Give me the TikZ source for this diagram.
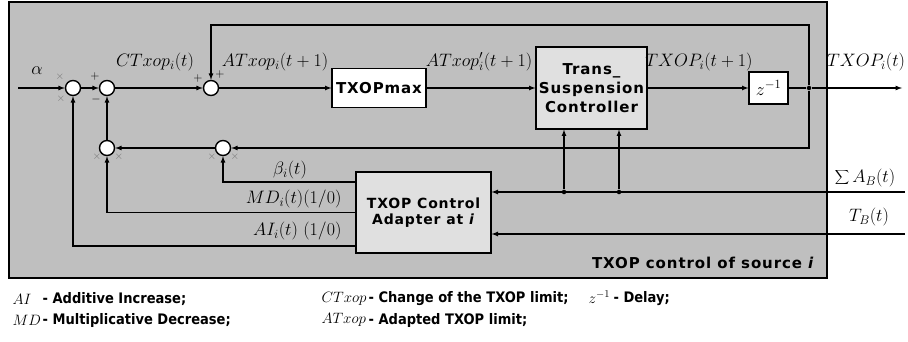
\RequirePackage{fix-cm}
\documentclass[tikz,border=0pt]{standalone}
\usepackage[no-math]{fontspec}
\newfontfamily\blocksf[LetterSpace=6]{DejaVu Sans}
\newfontfamily\legendsf[FakeStretch=0.9]{DejaVu Sans}
\usetikzlibrary{positioning}

\begin{document}
\begin{tikzpicture}[x=1pt, y=-1pt, line width=1.2pt,
	sumnode/.style={circle, draw, fill=white, minimum size=15pt, inner sep=0pt, line width=1.4pt},
	block/.style={rectangle, draw, line width=1.2pt, text centered, inner sep=2pt,
		font=\blocksf\bfseries\fontsize{15}{17}\selectfont},
	dot/.style={circle, fill, inner sep=1.6pt},
	lbl/.style={inner sep=0pt, font=\fontsize{18}{20}\selectfont},
	sign/.style={inner sep=0pt, font=\fontsize{12}{12}\selectfont},
	cross/.style={inner sep=0pt, text=black!55, font=\fontsize{11}{11}\selectfont},
	legm/.style={anchor=west, inner sep=0pt, font=\fontsize{15}{17}\selectfont},
	legt/.style={anchor=west, inner sep=0pt, font=\legendsf\bfseries\fontsize{14.5}{17}\selectfont}]
	
	\useasboundingbox (0,0) rectangle (908,342);
	
	%Panel
	\node (panel) at (418,140) [rectangle, draw, fill=black!25, minimum width=818pt, 
	minimum height=276pt]{};
	\node (panelTitle) at (815,263) [anchor=east, inner sep=0pt, 
	font=\blocksf\bfseries\fontsize{15}{17}\selectfont]{TXOP control of source \textit{i}};
	
	%Nodes
	\node (sum1) at (73,88) [sumnode]{};
	\node (sum2) at (107,88) [sumnode]{};
	\node (sum3) at (211,88) [sumnode]{};
	\node (sum4) at (107,148) [sumnode]{};
	\node (sum5) at (223,148) [sumnode]{};
	\node (TXOPmax) at (379,88) [block, fill=white, minimum width=94pt, 
	minimum height=39pt]{TXOPmax};
	\node (Trans) at (591.5,88) [block, fill=black!12, minimum width=111pt, 
	minimum height=82pt, align=center, font=\blocksf\bfseries\fontsize{15}{19}\selectfont]{Trans\_\\Suspension\\Controller};
	\node (Delay) at (768.5,88) [block, fill=white, minimum width=39pt, 
	minimum height=32pt, font=\fontsize{18}{20}\selectfont]{$z^{-1}$};
	\node (Adapter) at (423.5,212.5) [block, fill=black!12, minimum width=135pt, 
	minimum height=81pt, align=center, font=\blocksf\bfseries\fontsize{14}{16}\selectfont]{TXOP Control\\Adapter at \textit{i}};
	
	%Points
	\coordinate (alphaIn) at (18,88);
	\node (junc) at (809,88) [dot]{};
	\coordinate (out) at (902,88);
	\coordinate (loopT) at (809,25);
	\coordinate (loopB) at (809,148);
	\coordinate (SAin) at (905,192);
	\coordinate (TBin) at (905,234);
	\node (dotA) at (564,192) [dot]{};
	\node (dotB) at (619,192) [dot]{};
	
	%Links
	\draw[-latex] (alphaIn) -- (sum1);
	\draw[-latex] (sum1) -- (sum2);
	\draw[-latex] (sum2) -- (sum3);
	\draw[-latex] (sum3) -- (TXOPmax);
	\draw[-latex] (TXOPmax) -- (Trans);
	\draw[-latex] (Trans) -- (Delay);
	\draw (Delay) -- (junc);
	\draw[-latex] (junc) -- (out);
	\draw[-latex] (junc) -- (loopT) -| (sum3);
	\draw[-latex] (junc) -- (loopB) -- (sum5);
	\draw[-latex] (sum5) -- (sum4);
	\draw[-latex] (sum4) -- (sum2);
	\draw[-latex] ([yshift=30.5pt]Adapter.west) -| (sum5);
	\draw[-latex] (Adapter.west) -| (sum4);
	\draw[-latex] ([yshift=-33.5pt]Adapter.west) -| (sum1);
	\draw[-latex] (SAin) -- (Adapter.east |- SAin);
	\draw[-latex] (TBin) -- (Adapter.east |- TBin);
	\draw[-latex] (dotA) -- (dotA |- Trans.south);
	\draw[-latex] (dotB) -- (dotB |- Trans.south);
	
	%Signs
	\node (c1a) at (60,77) [cross]{$\times$};
	\node (c1b) at (61,99) [cross]{$\times$};
	\node (p2a) at (95,77) [sign]{$+$};
	\node (m2b) at (96,100) [sign]{$-$};
	\node (p3a) at (198,79) [sign]{$+$};
	\node (p3b) at (220,75) [sign]{$+$};
	\node (c4a) at (97,157) [cross]{$\times$};
	\node (c4b) at (119,157) [cross]{$\times$};
	\node (c5a) at (212,157) [cross]{$\times$};
	\node (c5b) at (235,157) [cross]{$\times$};
	
	%Labels
	\node (lblAlpha) at (37,71) [lbl]{$\alpha$};
	\node (lblCT) at (155,62) [lbl]{$CTxop_{i}(t)$};
	\node (lblAT) at (275,62) [lbl]{$ATxop_{i}(t+1)$};
	\node (lblATp) at (479,62) [lbl]{$ATxop'_{i}(t+1)$};
	\node (lblTXp) at (699,62) [lbl]{$TXOP_{i}(t+1)$};
	\node (lblTX) at (866,62) [lbl]{$TXOP_{i}(t)$};
	\node (lblSA) at (865,178) [lbl]{$\displaystyle\sum\nolimits A_{B}(t)$};
	\node (lblTB) at (869,217) [lbl]{$T_{B}(t)$};
	\node (lblBeta) at (290,170) [lbl]{$\beta_{i}(t)$};
	\node (lblMD) at (342,199) [lbl, anchor=east]{$MD_{i}(t)(1/0)$};
	\node (lblAI) at (342,231) [lbl, anchor=east]{$AI_{i}(t)\ (1/0)$};
	
	%Legend
	\node (legAI) at (12,299) [legm]{$AI$};
	\node (legAItxt) at (42,299) [legt]{- Additive Increase;};
	\node (legCT) at (321,299) [legm]{$CTxop$};
	\node (legCTtxt) at (368,299) [legt]{- Change of the TXOP limit;};
	\node (legZ) at (588,297) [legm]{$z^{-1}$};
	\node (legZtxt) at (613,299) [legt]{- Delay;};
	\node (legMD) at (12,320) [legm]{$MD$};
	\node (legMDtxt) at (42,320) [legt]{- Multiplicative Decrease;};
	\node (legAT) at (321,320) [legm]{$ATxop$};
	\node (legATtxt) at (368,320) [legt]{- Adapted TXOP limit;};
	
\end{tikzpicture}
\end{document}
